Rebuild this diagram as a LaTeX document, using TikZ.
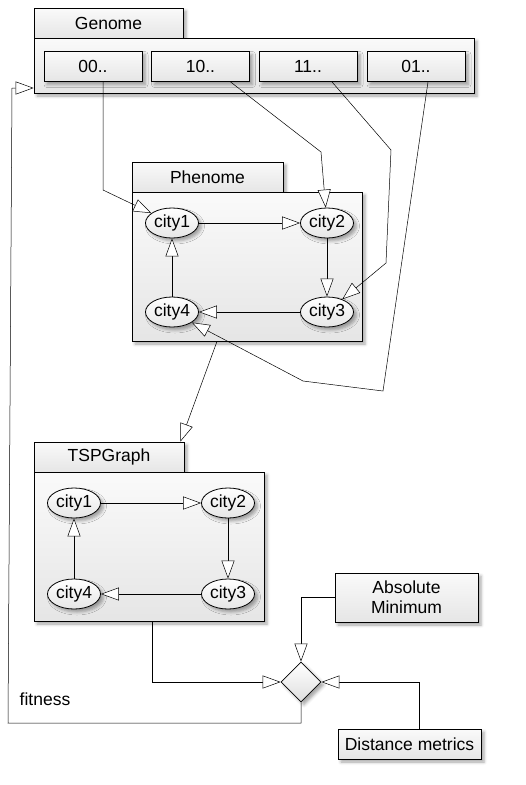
\documentclass[tikz,border=0pt]{standalone}
\usepackage{fontspec}
\setmainfont{Liberation Sans}
\usetikzlibrary{shapes.geometric,shadows.blur,arrows.meta}
\begin{document}
\begin{tikzpicture}[x=1pt,y=-1pt,
  every node/.style={font=\fontsize{17.5}{20}\selectfont},
  shade/.style={blur shadow={shadow xshift=3pt,shadow yshift=-3pt,shadow opacity=35,shadow blur radius=3pt}},
  box/.style={draw,line width=0.8pt,top color=gray!4,bottom color=gray!20,shade,inner sep=0pt},
  tab/.style={box,minimum height=30pt},
  cell/.style={box,minimum width=98pt,minimum height=30pt},
  city/.style={ellipse,draw,line width=0.8pt,top color=white,bottom color=gray!20,shade,
    minimum width=53pt,minimum height=30pt,inner sep=0pt},
  arr/.style={line width=0.5pt,-{Triangle[length=18pt,width=13pt,fill=white]}},
  link/.style={line width=0.5pt}]
\useasboundingbox (0,0) rectangle (526,785);

% genome
\node[tab,minimum width=149pt] (gentab) at (108.5,23) {Genome};
\node[box,minimum width=440pt,minimum height=55pt] (genbox) at (254,65.5) {};
\node[cell] (g00) at (93,66.5) {00..};
\node[cell] (g10) at (200.5,66.5) {10..};
\node[cell] (g11) at (308,66.5) {11..};
\node[cell] (g01) at (416,66.5) {01..};

% phenome
\node[tab,minimum width=151pt] (phtab) at (207.5,177) {Phenome};
\node[box,minimum width=230pt,minimum height=149pt] (phbox) at (247,266.5) {};
\node[city] (p1) at (172,223) {city1};
\node[city] (p2) at (327,223) {city2};
\node[city] (p3) at (327,312) {city3};
\node[city] (p4) at (172,312) {city4};

% tsp graph
\node[tab,minimum width=150pt] (tsptab) at (109,457) {TSPGraph};
\node[box,minimum width=230pt,minimum height=149pt] (tspbox) at (149,546.5) {};
\node[city] (t1) at (74,503) {city1};
\node[city] (t2) at (228,503) {city2};
\node[city] (t3) at (228,594) {city3};
\node[city] (t4) at (74,594) {city4};

% fitness
\node[box,minimum width=143pt,minimum height=49pt,align=center] (absmin) at (406.5,597.5) {Absolute\\Minimum};
\node[box,minimum width=143pt,minimum height=30pt] (dist) at (409.5,744) {Distance metrics};
\node[diamond,draw,line width=0.8pt,top color=white,bottom color=gray!25,shade,
  minimum width=40pt,minimum height=40pt,inner sep=0pt] (dia) at (301,682) {};
\node (fit) at (45,699) {fitness};

\foreach \a/\b in {p1/p2,p2/p3,p3/p4,p4/p1,t1/t2,t2/t3,t3/t4,t4/t1}
  \draw[arr] (\a) -- (\b);

\draw[arr] ([xshift=10pt]g00.south) -- (103,190) -- (p1);
\draw[arr] ([xshift=30pt]g10.south) -- (321,152) -- (p2);
\draw[arr] ([xshift=24pt]g11.south) -- (391,150) -- (386,263) -- (p3);
\draw[arr] ([xshift=12pt]g01.south) -- (383,391) -- (303,381) -- (p4);
\draw[arr] ([xshift=-30pt]phbox.south) -- ([xshift=-4pt]tsptab.north east);

\draw[arr] ([xshift=3pt]tspbox.south) |- (dia.west);
\draw[arr] (absmin.west) -| (dia.north);
\draw[arr] ([xshift=10pt]dist.north) |- (dia.east);
\draw[arr] (dia.south) -- (301,723) -- (8,723) -- (12,88) -- ([yshift=-22.5pt]genbox.west);
\end{tikzpicture}
\end{document}
